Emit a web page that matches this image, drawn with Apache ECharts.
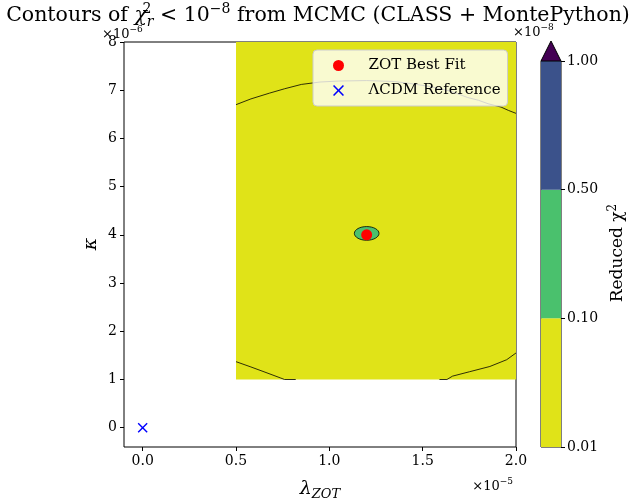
<!DOCTYPE html>
<html><head><meta charset="utf-8">
<script src="https://cdn.jsdelivr.net/npm/echarts@6/dist/echarts.min.js"></script>
<style>html,body{margin:0;padding:0;background:#fff}#c{width:632px;height:503px}</style>
</head><body><div id="c"></div>
<script>
// Units: lambda_ZOT in 1e-5, kappa in 1e-6
const xTicks = [0.0, 0.5, 1.0, 1.5, 2.0];
const yTicks = [0, 1, 2, 3, 4, 5, 6, 7, 8];
const cbTickLabels = ['0.01', '0.10', '0.50', '1.00'];
const cbBandValues = [1, 1, 1];
const cbColors = ['#e0e318', '#4ac16d', '#3b528b'];
const cbExtendColor = '#440154';
// filled region (lowest level) bounds
const regionLambda = [0.5, 2.0];
const regionKappa = [1.0, 8.0];
// contour line
const contourTop = [[0.50,6.70],[0.58,6.82],[0.68,6.94],[0.76,7.03],[0.85,7.12],[0.95,7.17],[1.05,7.19],[1.20,7.20],[1.35,7.18],[1.45,7.13],[1.55,7.07],[1.65,6.98],[1.74,6.85],[1.80,6.79],[1.85,6.72],[1.92,6.65],[1.96,6.58],[2.00,6.52]];
const contourBottomLeft = [[0.50,1.37],[0.58,1.26],[0.65,1.16],[0.74,1.03],[0.76,1.0],[0.82,1.0]];
const contourBottomRight = [[1.59,1.0],[1.63,1.0],[1.66,1.07],[1.75,1.16],[1.86,1.27],[1.95,1.41],[2.00,1.55]];
// inner (green) level: center lambda, center kappa, half-width lambda, half-height kappa
const innerLevel = [[1.20, 4.03, 0.066, 0.142]];
const bestFit = [[1.20, 4.00]];
const lcdmRef = [[0.0, 0.0]];

const FONT = 'DejaVu Serif';
const crossPath = 'path://M0,1L1,0L5,4L9,0L10,1L6,5L10,9L9,10L5,6L1,10L0,9L4,5Z';
const chart = echarts.init(document.getElementById('c'), null, {renderer: 'canvas'});

function supRich(size) {
  const s = Math.round(size * 0.7);
  const base = {fontFamily: FONT, fill: '#000', color: '#000'};
  return {
    n: Object.assign({fontSize: size, lineHeight: size + 6}, base),
    i: Object.assign({fontSize: size, lineHeight: size + 6, fontStyle: 'italic'}, base),
    sup: Object.assign({fontSize: s, lineHeight: s + 2, verticalAlign: 'top'}, base),
    sup0: Object.assign({fontSize: s, lineHeight: s + 2, verticalAlign: 'top', width: 0}, base),
    sub: Object.assign({fontSize: s, lineHeight: s + 2, verticalAlign: 'bottom'}, base),
    subi: Object.assign({fontSize: s, lineHeight: s + 2, verticalAlign: 'bottom', fontStyle: 'italic'}, base)
  };
}

chart.setOption({
  animation: false,
  textStyle: {fontFamily: FONT},
  grid: [
    {left: 124, top: 42, width: 392, height: 405, show: true, borderColor: '#000', borderWidth: 1, backgroundColor: 'transparent'},
    {left: 541, top: 61, width: 20, height: 386, show: true, borderColor: '#000', borderWidth: 1}
  ],
  xAxis: [
    {type: 'value', gridIndex: 0, min: -0.1, max: 2.0, axisLine: {show: false, onZero: false}, splitLine: {show: false},
     axisTick: {show: true, length: 4, lineStyle: {color: '#000'}, customValues: xTicks},
     axisLabel: {customValues: xTicks, color: '#000', fontSize: 14, fontFamily: FONT, margin: 7, formatter: v => v.toFixed(1)}},
    {type: 'category', gridIndex: 1, data: ['c'], show: false}
  ],
  yAxis: [
    {type: 'value', gridIndex: 0, min: -0.4, max: 8, axisLine: {show: false, onZero: false}, splitLine: {show: false},
     axisTick: {show: true, length: 4, lineStyle: {color: '#000'}, customValues: yTicks},
     axisLabel: {customValues: yTicks, color: '#000', fontSize: 14, fontFamily: FONT, margin: 7, formatter: v => String(v)}},
    {type: 'value', gridIndex: 1, min: 0, max: 3, position: 'right', axisLine: {show: false, onZero: false}, splitLine: {show: false},
     axisTick: {show: true, length: 4, lineStyle: {color: '#000'}, customValues: [0,1,2,3]},
     axisLabel: {customValues: [0,1,2,3], color: '#000', fontSize: 14, fontFamily: FONT, margin: 6, formatter: v => cbTickLabels[v]}}
  ],
  legend: {
    left: 313, top: 50, orient: 'vertical', padding: [8, 7, 8, 20], itemGap: 10,
    itemWidth: 50, itemHeight: 11,
    backgroundColor: 'rgba(255,255,255,0.8)', borderColor: '#cccccc', borderWidth: 1, borderRadius: 4,
    textStyle: {fontFamily: FONT, fontSize: 15, color: '#000'},
    data: [{name: 'ZOT Best Fit', icon: 'circle'}, {name: '\u039BCDM Reference', icon: crossPath}]
  },
  series: [
    {type: 'custom', xAxisIndex: 0, yAxisIndex: 0, silent: true, z: 1,
     data: [[regionLambda[0], regionKappa[0], regionLambda[1], regionKappa[1]]],
     renderItem: (params, api) => {
       const p0 = api.coord([api.value(0), api.value(1)]);
       const p1 = api.coord([api.value(2), api.value(3)]);
       return {type: 'rect', shape: {x: p0[0], y: p1[1], width: p1[0] - p0[0], height: p0[1] - p1[1]}, style: {fill: cbColors[0]}};
     }},
    {type: 'line', data: contourTop, symbol: 'none', lineStyle: {color: '#000', width: 0.8}, z: 2, silent: true},
    {type: 'line', data: contourBottomLeft, symbol: 'none', lineStyle: {color: '#000', width: 0.8}, z: 2, silent: true},
    {type: 'line', data: contourBottomRight, symbol: 'none', lineStyle: {color: '#000', width: 0.8}, z: 2, silent: true},
    {type: 'custom', xAxisIndex: 0, yAxisIndex: 0, silent: true, z: 3, data: innerLevel,
     renderItem: (params, api) => {
       const c = api.coord([api.value(0), api.value(1)]);
       const s = api.size([api.value(2), api.value(3)]);
       return {type: 'ellipse', shape: {cx: c[0], cy: c[1], rx: s[0], ry: s[1]}, style: {fill: cbColors[1], stroke: '#000', lineWidth: 0.8}};
     }},
    {type: 'scatter', name: 'ZOT Best Fit', data: bestFit, symbol: 'circle', symbolSize: 11, itemStyle: {color: '#ff0000', opacity: 1}, z: 5},
    {type: 'scatter', name: '\u039BCDM Reference', data: lcdmRef, symbol: crossPath, symbolSize: 10, itemStyle: {color: '#0000ff', opacity: 1}, z: 5},
    // colorbar
    ...cbBandValues.map((v, i) => ({type: 'bar', xAxisIndex: 1, yAxisIndex: 1, stack: 'cb', barWidth: '100%', data: [v], itemStyle: {color: cbColors[i]}, silent: true})),
    {type: 'scatter', xAxisIndex: 1, yAxisIndex: 1, data: [['c', 3]], symbol: 'triangle', symbolSize: [20, 20], symbolOffset: [0, '-50%'],
     itemStyle: {color: cbExtendColor, borderColor: '#000', borderWidth: 1, opacity: 1}, clip: false, silent: true, z: 5}
  ],
  graphic: [
    {type: 'text', x: 318, y: 16, style: {text: '{n|Contours of }{i|\u03C7}{sup0|2}{subi|r}{n| < 10}{sup|\u22128}{n| from MCMC (CLASS + MontePython)}', rich: supRich(20.5), align: 'center', verticalAlign: 'middle'}},
    {type: 'text', x: 102, y: 35, style: {text: '{n|\u00D710}{sup|\u22126}', rich: supRich(13), align: 'left', verticalAlign: 'middle'}},
    {type: 'text', x: 513, y: 33, style: {text: '{n|\u00D710}{sup|\u22128}', rich: supRich(13), align: 'left', verticalAlign: 'middle'}},
    {type: 'text', x: 513, y: 487, style: {text: '{n|\u00D710}{sup|\u22125}', rich: supRich(13), align: 'right', verticalAlign: 'middle'}},
    {type: 'text', x: 320, y: 489, style: {text: '{i|\u03BB}{subi|ZOT}', rich: supRich(19), align: 'center', verticalAlign: 'middle'}},
    {type: 'text', x: 91, y: 244, rotation: Math.PI / 2, style: {text: '\u03BA', fontFamily: FONT, fontStyle: 'italic', fontSize: 19, fill: '#000', align: 'center', verticalAlign: 'middle'}},
    {type: 'text', x: 618, y: 253, rotation: Math.PI / 2, style: {text: '{n|Reduced \u03C7}{sup|2}', rich: supRich(17), align: 'center', verticalAlign: 'middle'}}
  ]
});
</script></body></html>
